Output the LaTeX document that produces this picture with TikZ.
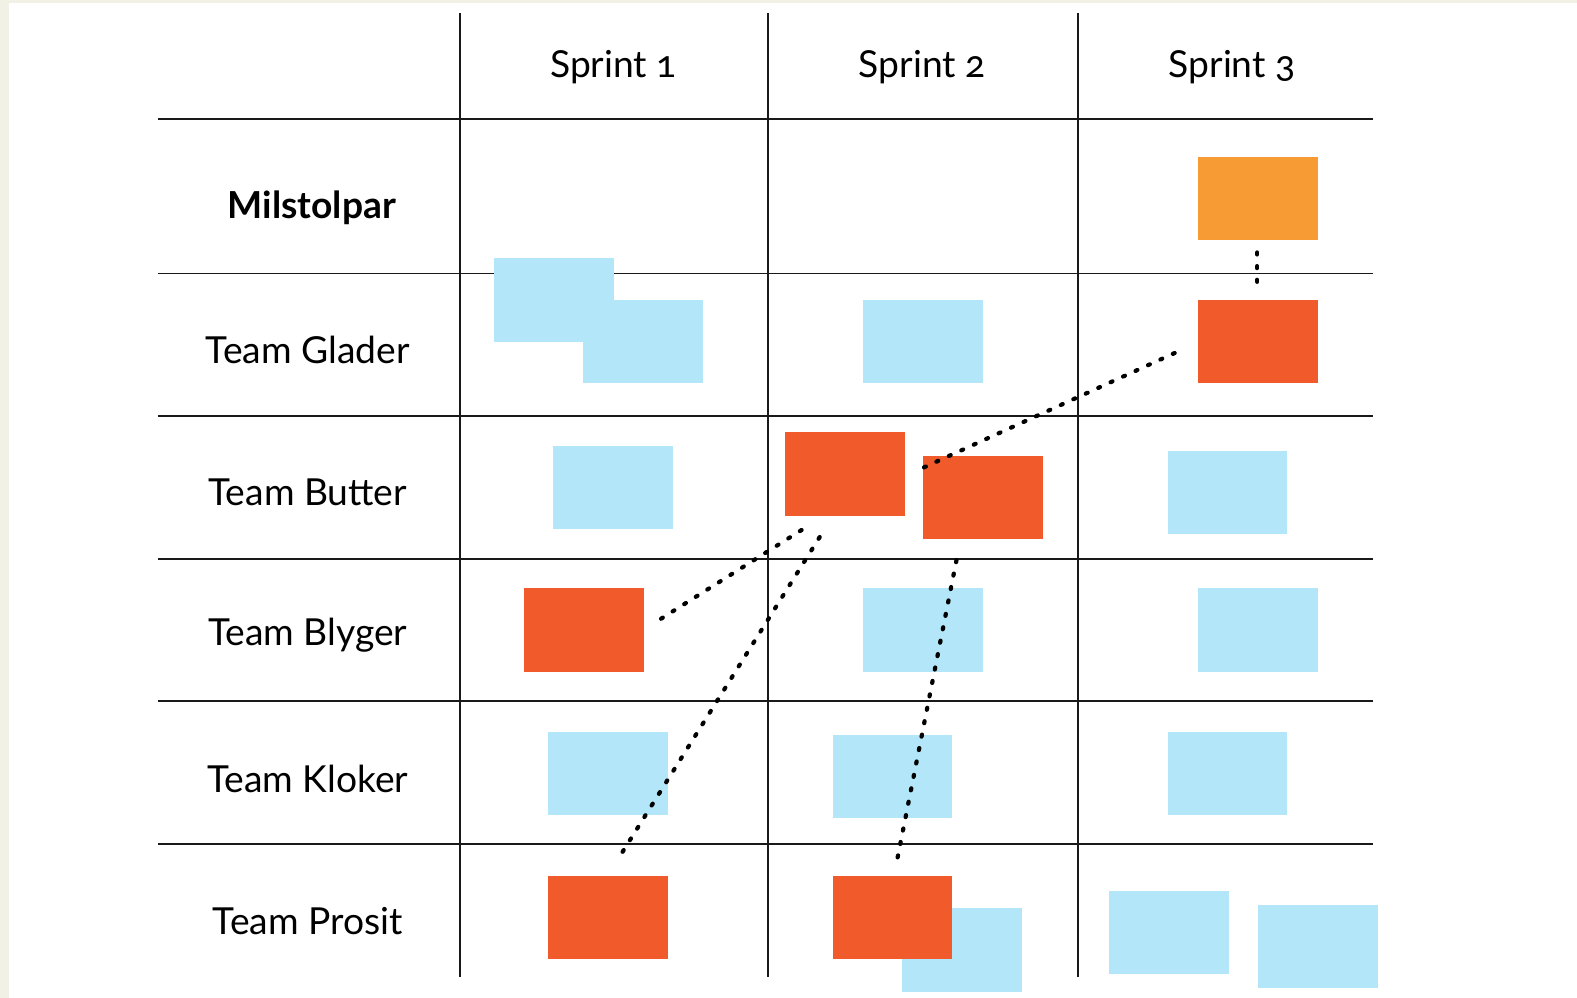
\documentclass[tikz,border=0pt]{standalone}
\usepackage{fontspec}
\setmainfont{Lato}[Numbers=OldStyle]
\begin{document}
\begin{tikzpicture}[x=1pt,y=-1pt,
  card/.style={minimum width=119pt, minimum height=83pt, inner sep=0pt, outer sep=0pt, draw=none},
  bluecard/.style={card, fill=cardblue},
  redcard/.style={card, fill=cardred},
  orangecard/.style={card, fill=cardorange},
  gridline/.style={line width=1.8pt, draw=black!90},
  dotline/.style={line width=4.2pt, line cap=round, dash pattern=on 2pt off 11.6pt, draw=black},
  lbl/.style={font=\fontsize{37}{40}\selectfont, text=black, inner sep=0pt}]
\definecolor{cardblue}{HTML}{B3E6F8}
\definecolor{cardred}{HTML}{F15A2B}
\definecolor{cardorange}{HTML}{F79C34}
\definecolor{beige}{HTML}{F2F1E6}
\useasboundingbox (0,0) rectangle (1568,992);
\fill[beige] (0,0) rectangle (1568,992);
\fill[white] (9,3) rectangle (1568,992);
% grid
\foreach \x in {457,764,1072} \draw[gridline] (\x,13) -- (\x,971);
\foreach \y in {118,272,414,556,697,839} \draw[gridline] (157,\y) -- (1365,\y);
% headers
\node[lbl] (s1) at (610,67) {Sprint 1};
\node[lbl] (s2) at (917,67) {Sprint 2};
\node[lbl] (s3) at (1225,67) {Sprint 3};
\node[lbl, font=\fontsize{37}{40}\bfseries\selectfont] (mil) at (310,207) {Milstolpar};
\node[lbl] (tg) at (306,348) {Team Glader};
\node[lbl] (tb) at (306,490) {Team Butter};
\node[lbl] (tbl) at (306,632) {Team Blyger};
\node[lbl] (tk) at (306,774) {Team Kloker};
\node[lbl] (tp) at (306,916) {Team Prosit};
% cards
\node[bluecard] (gA) at (550.5,298.5) {};
\node[bluecard] (gB) at (639.5,339.5) {};
\node[bluecard] (gS2) at (917.5,339.5) {};
\node[bluecard] (bS1) at (609.5,484.5) {};
\node[bluecard] (bS3) at (1220.5,489.5) {};
\node[bluecard] (blS2) at (917.5,626.5) {};
\node[bluecard] (blS3) at (1250.5,626.5) {};
\node[bluecard] (kS1) at (604.5,769) {};
\node[bluecard] (kS2) at (887.5,772) {};
\node[bluecard] (kS3) at (1220.5,769) {};
\node[bluecard] (pS2b) at (956.5,944.5) {};
\node[bluecard] (pS3a) at (1162.5,927) {};
\node[bluecard] (pS3b) at (1310.5,941) {};
\node[orangecard] (mS3) at (1250.5,197.5) {};
\node[redcard] (gS3) at (1250.5,339.5) {};
\node[redcard] (bS2a) at (840.5,471.5) {};
\node[redcard] (bS2b) at (977.5,494.5) {};
\node[redcard] (blS1) at (580.5,626.5) {};
\node[redcard] (pS1) at (604.5,912) {};
\node[redcard] (pS2) at (887.5,912) {};
% connector ends
\coordinate (m1) at (1250,251);
\coordinate (m2) at (1250,282);
\coordinate (d1a) at (1168,351);
\coordinate (d1b) at (918,465);
\coordinate (d2a) at (797,527);
\coordinate (d2b) at (656,616);
\coordinate (d3a) at (815,534);
\coordinate (d3b) at (614,855);
\coordinate (d4a) at (951,557);
\coordinate (d4b) at (892,855);
\draw[dotline] (m1) -- (m2);
\draw[dotline] (d1a) -- (d1b);
\draw[dotline] (d2a) -- (d2b);
\draw[dotline] (d3a) -- (d3b);
\draw[dotline] (d4a) -- (d4b);
\end{tikzpicture}
\end{document}
